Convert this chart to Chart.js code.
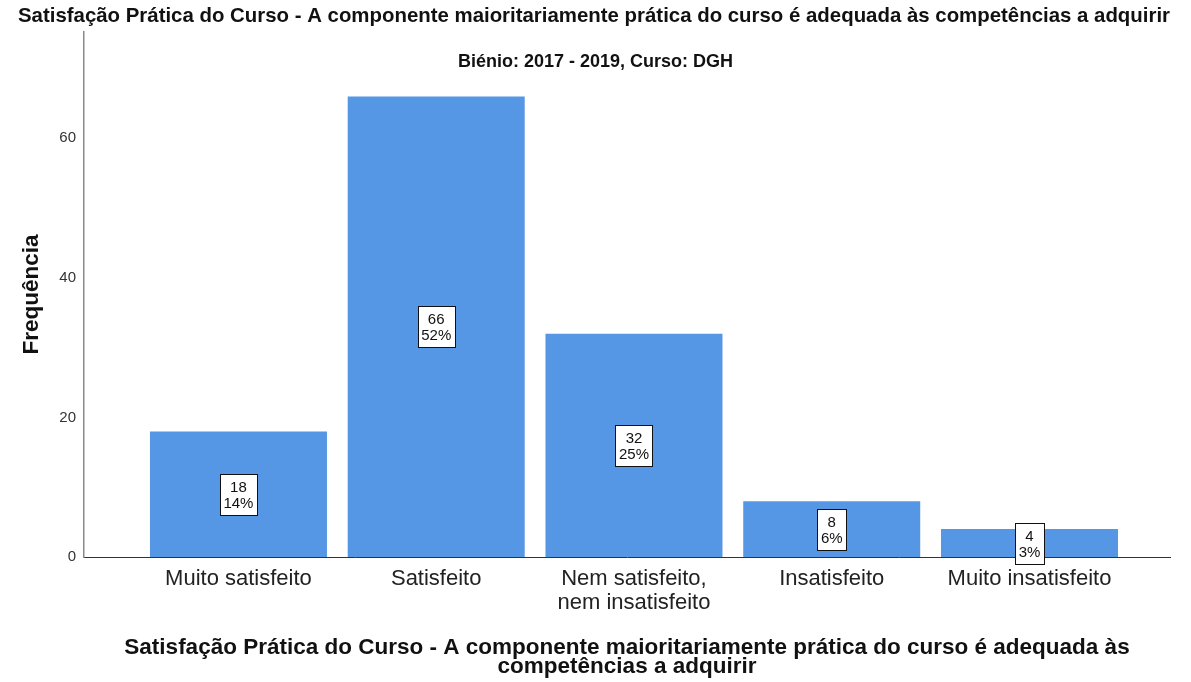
<!DOCTYPE html>
<html>
<head>
<meta charset="utf-8">
<title>Satisfação Prática do Curso</title>
<script src="https://cdn.jsdelivr.net/npm/chart.js@4/dist/chart.umd.min.js"></script>
<style>
  html, body { margin: 0; padding: 0; background: #fff; }
  #wrap { width: 1191px; height: 682px; }
</style>
</head>
<body>
<div id="wrap"><canvas id="chart"></canvas></div>
<script>
// answer categories and counts
var categorias = ['Muito satisfeito', 'Satisfeito', ['Nem satisfeito,', 'nem insatisfeito'], 'Insatisfeito', 'Muito insatisfeito'];
var frequencias = [18, 66, 32, 8, 4];
var yTicks = [0, 20, 40, 60];

var tituloTopo = 'Satisfação Prática do Curso - A componente maioritariamente prática do curso é adequada às competências a adquirir';
var subtitulo = 'Biénio: 2017 - 2019, Curso: DGH';
var tituloX = ['Satisfação Prática do Curso - A componente maioritariamente prática do curso é adequada às', 'competências a adquirir'];

var FONT = '"Liberation Sans", Arial, sans-serif';
var total = frequencias.reduce(function(a, b){ return a + b; }, 0);

// white boxes with count and percentage in the middle of each bar
var rotulos = {
    id: 'rotulos',
    afterDatasetsDraw: function(chart){
        var ctx = chart.ctx;
        var meta = chart.getDatasetMeta(0);
        ctx.save();
        ctx.font = '15px ' + FONT;
        ctx.textAlign = 'center';
        ctx.textBaseline = 'middle';
        meta.data.forEach(function(bar, i){
            var v = frequencias[i];
            var l1 = String(v);
            var l2 = Math.round(v / total * 100) + '%';
            var w = Math.round(Math.max(ctx.measureText(l1).width, ctx.measureText(l2).width) + 7);
            var h = 41;
            var cx = bar.x;
            var cy = (bar.y + bar.base) / 2;
            var x0 = Math.round(cx - w / 2) + 0.5;
            var y0 = Math.round(cy - h / 2) + 0.5;
            ctx.fillStyle = '#fff';
            ctx.fillRect(x0, y0, w, h);
            ctx.strokeStyle = '#111';
            ctx.lineWidth = 1;
            ctx.strokeRect(x0, y0, w, h);
            ctx.fillStyle = '#111';
            ctx.fillText(l1, cx, y0 + 13);
            ctx.fillText(l2, cx, y0 + 29);
        });
        ctx.restore();
    }
};

// subtitle sits inside the plot area, under the axis top
var subtituloPlugin = {
    id: 'subtituloPlugin',
    afterDraw: function(chart){
        var ctx = chart.ctx;
        ctx.save();
        ctx.font = 'bold 18px ' + FONT;
        ctx.fillStyle = '#111';
        ctx.textAlign = 'center';
        ctx.textBaseline = 'middle';
        ctx.fillText(subtitulo, chart.width / 2, 62);
        ctx.restore();
    }
};

var pontos = frequencias.map(function(v, i){ return {x: i, y: v}; });

new Chart(document.getElementById('chart').getContext('2d'), {
    type: 'bar',
    data: {
        datasets: [{
            data: pontos,
            backgroundColor: '#5596e5',
            borderWidth: 0,
            barPercentage: 0.895,
            categoryPercentage: 1
        }]
    },
    options: {
        responsive: true,
        maintainAspectRatio: false,
        animation: false,
        layout: { padding: { top: 4, right: 21, bottom: 5, left: 18 } },
        plugins: {
            legend: { display: false },
            tooltip: { enabled: false },
            title: {
                display: true,
                text: tituloTopo,
                color: '#111',
                font: { family: FONT, size: 21, weight: 'bold', lineHeight: 1.2 },
                padding: { top: 0, bottom: 3 }
            }
        },
        scales: {
            x: {
                type: 'linear',
                offset: false,
                min: -0.781,
                max: 4.7105,
                grid: { display: false, drawTicks: false },
                border: { display: true, color: '#333', width: 1 },
                afterBuildTicks: function(scale){
                    scale.ticks = categorias.map(function(c, i){ return {value: i}; });
                },
                ticks: {
                    autoSkip: false,
                    maxRotation: 0,
                    padding: 10,
                    color: '#222',
                    font: { family: FONT, size: 22, lineHeight: 1.1 },
                    callback: function(value){ return categorias[value]; }
                },
                title: {
                    display: true,
                    text: tituloX,
                    color: '#111',
                    font: { family: FONT, size: 22.5, weight: 'bold', lineHeight: 0.88 },
                    padding: { top: 12, bottom: 0 }
                }
            },
            y: {
                min: 0,
                max: 75.2,
                grid: { display: false, drawTicks: false },
                border: { display: true, color: '#8a8a8a', width: 1.5 },
                afterBuildTicks: function(scale){
                    scale.ticks = yTicks.map(function(v){ return {value: v}; });
                },
                afterFit: function(scale){ scale.width = 66; },
                ticks: {
                    padding: 8,
                    color: '#333',
                    font: { family: FONT, size: 15 }
                },
                title: {
                    display: true,
                    text: 'Frequência',
                    color: '#111',
                    font: { family: FONT, size: 22.5, weight: 'bold', lineHeight: 1.2 },
                    padding: { top: 0, bottom: 0 }
                }
            }
        }
    },
    plugins: [rotulos, subtituloPlugin]
});
</script>
</body>
</html>
